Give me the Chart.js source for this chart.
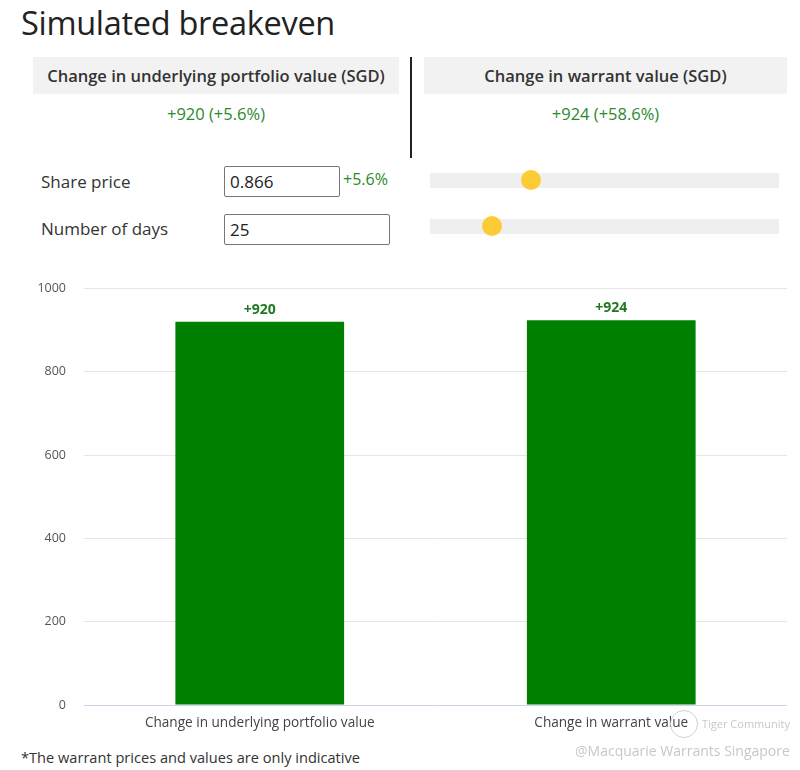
<!DOCTYPE html>
<html>
<head>
<meta charset="utf-8">
<script src="https://cdn.jsdelivr.net/npm/chart.js@4"></script>
<style>
  body { margin: 0; width: 800px; height: 770px; background: #fff; font-family: "Open Sans", sans-serif; color: #333; position: relative; overflow: hidden; }
  .abs { position: absolute; }
  h1 { position: absolute; left: 21px; top: 0px; margin: 0; font-weight: 400; font-size: 32.5px; color: #222; letter-spacing: -0.3px; }
  .hdr { background: #f2f2f2; height: 37px; line-height: 37px; text-align: center; font-size: 16.5px; font-weight: 600; color: #333; top: 57px; white-space: nowrap; }
  .val { top: 102px; font-size: 16.5px; color: #2b8a2b; text-align: center; }
  .lbl { left: 41px; font-size: 17px; color: #333; }
  .inp { border: 1px solid #777; border-radius: 2px; box-sizing: border-box; font-size: 17px; padding-left: 5px; color: #222; }
  .track { left: 430px; width: 349px; height: 15px; background: #efefef; }
  .thumb { width: 20px; height: 20px; border-radius: 50%; background: #fccb35; }
  .foot { left: 21px; top: 747px; font-size: 14.6px; color: #333; }
  .wm { color: #c8c8c8; font-size: 14px; }
</style>
</head>
<body>
<h1>Simulated breakeven</h1>
<div class="abs hdr" style="left:33px;width:366px;">Change in underlying portfolio value (SGD)</div>
<div class="abs hdr" style="left:424px;width:363px;">Change in warrant value (SGD)</div>
<div class="abs" style="left:410px;top:57px;width:2px;height:101px;background:#222;"></div>
<div class="abs val" style="left:33px;width:366px;">+920 (+5.6%)</div>
<div class="abs val" style="left:424px;width:363px;">+924 (+58.6%)</div>

<div class="abs lbl" style="top:170px;">Share price</div>
<div class="abs inp" style="left:224px;top:166px;width:116px;height:31px;line-height:29px;">0.866</div>
<div class="abs" style="left:343px;top:168px;font-size:16px;color:#2b8a2b;">+5.6%</div>
<div class="abs track" style="top:173px;"></div>
<div class="abs thumb" style="left:521px;top:170px;"></div>

<div class="abs lbl" style="top:217px;">Number of days</div>
<div class="abs inp" style="left:224px;top:214px;width:166px;height:31px;line-height:29px;">25</div>
<div class="abs track" style="top:219px;"></div>
<div class="abs thumb" style="left:482px;top:216px;"></div>

<div class="abs" style="left:0;top:263px;width:800px;height:477px;">
  <canvas id="chart"></canvas>
</div>

<div class="abs foot">*The warrant prices and values are only indicative</div>
<div class="abs wm" style="left:670px;top:710px;width:26px;height:26px;border:1.5px solid #d0d0d0;border-radius:50%;"></div>
<div class="abs wm" style="left:702px;top:716px;font-size:11px;">Tiger Community</div>
<div class="abs wm" style="left:575px;top:741px;font-size:14px;">@Macquarie Warrants Singapore</div>

<script>
var categories = ["Change in underlying portfolio value", "Change in warrant value"];
var changeValues = [920, 924];
var valueLabels = ["+920", "+924"];
var yTicks = [0, 200, 400, 600, 800, 1000];

// simple label on top of each bar
var barLabels = {
  id: 'barLabels',
  afterDatasetsDraw: function(chart) {
    var ctx = chart.ctx;
    var meta = chart.getDatasetMeta(0);
    ctx.save();
    ctx.font = 'bold 14px "Open Sans"';
    ctx.fillStyle = '#1f7a1f';
    ctx.textAlign = 'center';
    ctx.textBaseline = 'bottom';
    meta.data.forEach(function(bar, i) {
      ctx.fillText(valueLabels[i], bar.x, bar.y - 5);
    });
    ctx.restore();
  }
};

var ctx1 = document.getElementById("chart");
const myChart = new Chart(ctx1, {
  type: 'bar',
  data: {
    labels: categories,
    datasets: [{
      data: changeValues,
      backgroundColor: '#008000',
      barPercentage: 0.6,
      categoryPercentage: 0.8
    }]
  },
  options: {
    responsive: true,
    maintainAspectRatio: false,
    animation: false,
    layout: { padding: { top: 8, right: 13, left: 0, bottom: 0 } },
    plugins: { legend: { display: false }, tooltip: { enabled: false } },
    scales: {
      x: {
        grid: { display: false },
        border: { display: false },
        ticks: { color: '#444', font: { family: 'Open Sans', size: 13.6 }, padding: 2 },
        afterFit: function(scale) { scale.height = 35; }
      },
      y: {
        min: 0,
        max: 1000,
        afterBuildTicks: function(scale) { scale.ticks = yTicks.map(function(v) { return { value: v }; }); },
        grid: {
          drawTicks: false,
          color: function(c) { return c.tick && c.tick.value === 0 ? '#ccd6eb' : '#e6e6e6'; }
        },
        border: { display: false },
        ticks: {
          color: '#555', font: { family: 'Open Sans', size: 12.5 }, padding: 18,
          callback: function(v) { return String(v); }
        },
        afterFit: function(scale) { scale.width = 84; }
      }
    }
  },
  plugins: [barLabels]
});
</script>
</body>
</html>
